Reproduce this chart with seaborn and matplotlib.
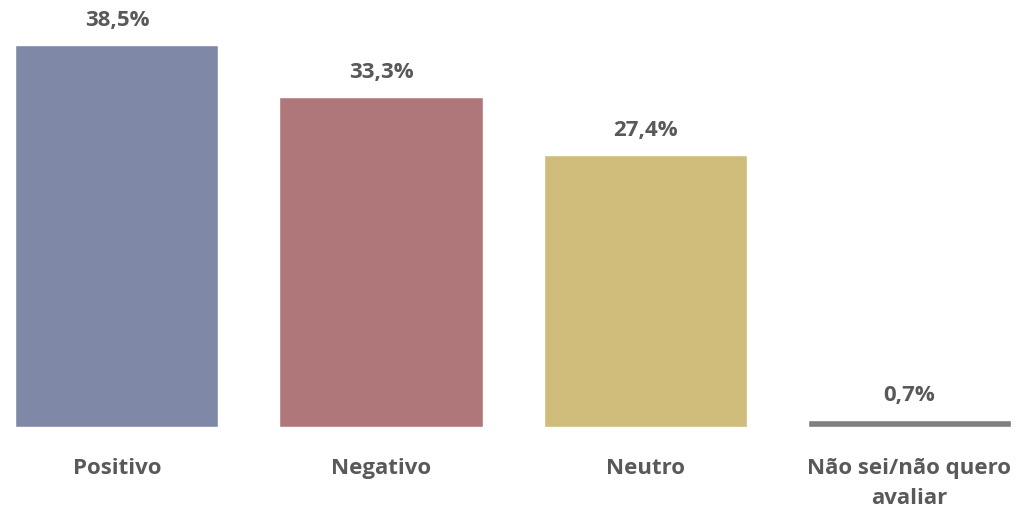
import matplotlib
matplotlib.use("Agg")
import matplotlib.pyplot as plt
import seaborn as sns

categorias = ["Positivo", "Negativo", "Neutro", "Não sei/não quero\navaliar"]
percentuais = [38.5, 33.3, 27.4, 0.7]
cores = ["#8088A8", "#B0777B", "#CFBC7B", "#808080"]

sns.set_style("white")
plt.rcParams["font.family"] = ["Open Sans", "DejaVu Sans"]

fig = plt.figure(figsize=(10.21, 5.11), dpi=100)
ax = fig.add_axes([0, 0.1644, 1, 0.8356])

sns.barplot(x=categorias, y=percentuais, hue=categorias, palette=cores,
            legend=False, width=0.769, saturation=1, ax=ax)

for c in ax.containers:
    ax.bar_label(c, labels=[f"{v:.1f}%".replace(".", ",") for v in c.datavalues],
                 padding=10, fontsize=16, fontweight="bold", color="#595959")

ax.set_xlim(-0.443, 3.424)
ax.set_ylim(0, 43.04)
ax.set_yticks([])
ax.set_xlabel("")
ax.set_ylabel("")
ax.tick_params(axis="x", length=0, pad=22)
for lbl in ax.get_xticklabels():
    lbl.set_fontsize(16)
    lbl.set_fontweight("bold")
    lbl.set_color("#595959")
    lbl.set_linespacing(1.6)
sns.despine(left=True, bottom=True)

fig.savefig("out.png", dpi=100)
